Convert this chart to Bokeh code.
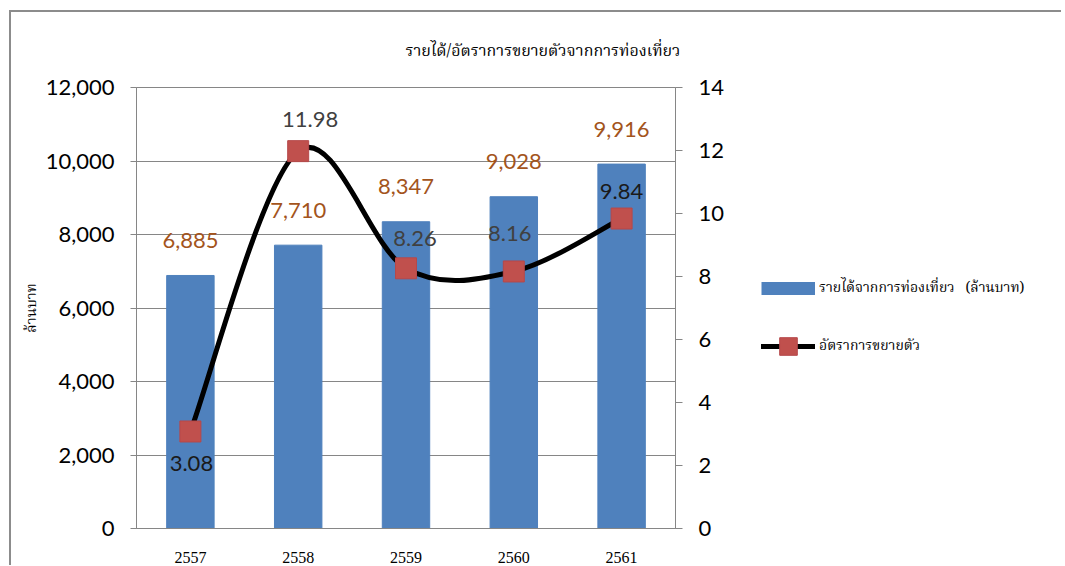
import math
from bokeh.plotting import figure
from bokeh.layouts import row
from bokeh.models import (Range1d, LinearAxis, FixedTicker, NumeralTickFormatter,
                          Legend, LegendItem, Label, ColumnDataSource, LabelSet)
from bokeh.core.properties import value
from bokeh.embed import file_html
from bokeh.resources import INLINE

# ---- data ----
years = ["2557", "2558", "2559", "2560", "2561"]
revenue = [6885, 7710, 8347, 9028, 9916]          # ล้านบาท
growth = [3.08, 11.98, 8.26, 8.16, 9.84]           # %
revenue_label_text = ["6,885", "7,710", "8,347", "9,028", "9,916"]
growth_label_text = ["3.08", "11.98", "8.26", "8.16", "9.84"]
left_ticks = [0, 2000, 4000, 6000, 8000, 10000, 12000]
right_ticks = [0, 2, 4, 6, 8, 10, 12, 14]

title_text = "รายได้/อัตราการขยายตัวจากการท่องเที่ยว"
bar_name = "รายได้จากการท่องเที่ยว   (ล้านบาท)"
line_name = "อัตราการขยายตัว"
y_label = "ล้านบาท"

# ---- styles ----
BAR = "#4F81BD"
MARK = "#C0504D"
MARK_EDGE = "#B5484A"
AX = "#868686"
NUM_FONT = "Lato"
THAI_FONT = "Noto Serif Thai"
growth_dx = [1, 12, 9, -4, 0]
growth_dy = [-32, 32, 30, 38, 27]
growth_colors = ["#1a1a1a", "#404040", "#404040", "#404040", "#1a1a1a"]
H = 553

xs = [i + 0.5 for i in range(len(years))]

p = figure(width=724, height=H, output_backend="svg", toolbar_location=None,
           x_range=Range1d(0, len(years)), y_range=Range1d(0, 12000),
           min_border_left=125, min_border_right=60, min_border_top=75,
           min_border_bottom=37)
p.outline_line_color = AX
p.outline_line_width = 1
p.background_fill_color = "white"
p.border_fill_color = "white"
p.extra_y_ranges = {"rate": Range1d(0, 14)}

# bars
bars = p.vbar(x=xs, top=revenue, width=0.44, fill_color=BAR, line_color=BAR)

# smoothed line (Bezier segments, Catmull-Rom style control points)
n = len(xs)
def pt(i):
    i = max(0, min(n - 1, i))
    return xs[i], growth[i]
x0, y0, x1, y1, cx0, cy0, cx1, cy1 = [], [], [], [], [], [], [], []
for i in range(n - 1):
    pa, pb, pc, pd = pt(i - 1), pt(i), pt(i + 1), pt(i + 2)
    x0.append(pb[0]); y0.append(pb[1]); x1.append(pc[0]); y1.append(pc[1])
    cx0.append(pb[0] + (pc[0] - pa[0]) / 6); cy0.append(pb[1] + (pc[1] - pa[1]) / 6)
    cx1.append(pc[0] - (pd[0] - pb[0]) / 6); cy1.append(pc[1] - (pd[1] - pb[1]) / 6)
p.bezier(x0=x0, y0=y0, x1=x1, y1=y1, cx0=cx0, cy0=cy0, cx1=cx1, cy1=cy1,
         line_color="black", line_width=5, line_cap="round", y_range_name="rate")
marks = p.scatter(x=xs, y=growth, marker="square", size=21, fill_color=MARK,
                  line_color=MARK_EDGE, y_range_name="rate")

# data labels
src_r = ColumnDataSource(dict(x=xs, y=revenue, t=revenue_label_text))
p.add_layout(LabelSet(x="x", y="y", text="t", source=src_r, y_offset=35,
                      text_align="center", text_baseline="middle",
                      text_font=value(NUM_FONT), text_font_size="22px",
                      text_color="#A3541C"))
for i in range(n):
    p.add_layout(Label(x=xs[i], y=growth[i], text=growth_label_text[i],
                       y_range_name="rate", x_offset=growth_dx[i], y_offset=growth_dy[i],
                       text_align="center", text_baseline="middle",
                       text_font=NUM_FONT, text_font_size="22px",
                       text_color=growth_colors[i]))

# axes
yl = p.yaxis[0]
yl.ticker = FixedTicker(ticks=left_ticks)
yl.formatter = NumeralTickFormatter(format="0,0")
yl.axis_line_color = AX
yl.major_tick_line_color = AX
yl.major_tick_out = 6
yl.major_tick_in = 0
yl.minor_tick_line_color = None
yl.major_label_standoff = 16
yl.major_label_text_font = NUM_FONT
yl.major_label_text_font_size = "22px"
yl.major_label_text_color = "black"
yl.axis_label = y_label
yl.axis_label_text_font = THAI_FONT
yl.axis_label_text_font_size = "14px"
yl.axis_label_text_font_style = "normal"
yl.axis_label_text_color = "black"
yl.axis_label_standoff = 0

yr = LinearAxis(y_range_name="rate", ticker=FixedTicker(ticks=right_ticks))
yr.axis_line_color = AX
yr.major_tick_line_color = AX
yr.major_tick_out = 7
yr.major_tick_in = 0
yr.minor_tick_line_color = None
yr.major_label_standoff = 16
yr.major_label_text_font = NUM_FONT
yr.major_label_text_font_size = "22px"
yr.major_label_text_color = "black"
p.add_layout(yr, "right")

xa = p.xaxis[0]
xa.ticker = FixedTicker(ticks=xs)
xa.major_label_overrides = {x: y for x, y in zip(xs, years)}
xa.axis_line_color = AX
xa.major_tick_line_color = None
xa.minor_tick_line_color = None
xa.major_label_standoff = 17
xa.major_label_text_font = "Liberation Serif"
xa.major_label_text_font_size = "16px"
xa.major_label_text_color = "black"

p.xgrid.grid_line_color = None
p.ygrid.grid_line_color = AX
p.ygrid.ticker = FixedTicker(ticks=left_ticks)

# title
p.title.text = title_text
p.title.align = "left"
p.title.offset = 269
p.title.standoff = 45
p.title.text_font = THAI_FONT
p.title.text_font_size = "16px"
p.title.text_font_style = "normal"
p.title.text_color = "black"

# ---- legend panel (separate figure on the right) ----
q = figure(width=326, height=H, output_backend="svg", toolbar_location=None,
           x_range=Range1d(0, 1), y_range=Range1d(0, 1),
           x_axis_location=None, y_axis_location=None,
           min_border_left=0, min_border_right=0, min_border_top=0, min_border_bottom=0)
q.grid.visible = False
q.outline_line_color = None
q.background_fill_color = "white"
q.border_fill_color = "white"
nan = [math.nan]
bar_proxy = q.line(x=nan, y=nan, line_color=BAR, line_width=13, line_cap="butt")
line_proxy = q.line(x=nan, y=nan, line_color="black", line_width=5, line_cap="round")
mark_proxy = q.scatter(x=nan, y=nan, marker="square", size=21, fill_color=MARK,
                       line_color=MARK_EDGE)
leg = Legend(items=[LegendItem(label=bar_name, renderers=[bar_proxy]),
                    LegendItem(label=line_name, renderers=[line_proxy, mark_proxy])],
             location=(26, 160), glyph_width=54, glyph_height=44, spacing=14,
             label_standoff=4, padding=0, margin=0, border_line_alpha=0,
             background_fill_alpha=0, label_text_font=THAI_FONT,
             label_text_font_size="14px", label_text_color="black")
q.add_layout(leg)

layout = row(p, q)
layout.styles = {"margin-left": "9px", "margin-top": "10px",
                 "border-top": "2px solid #8c8c8c", "border-left": "2px solid #8c8c8c"}

open("out.html", "w").write(file_html(layout, INLINE))
